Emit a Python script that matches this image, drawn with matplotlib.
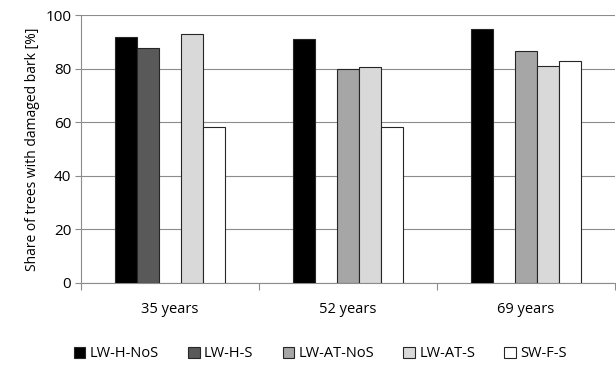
import matplotlib.pyplot as plt
import numpy as np

plt.rcParams['font.family'] = ['Open Sans', 'DejaVu Sans']

categories = ['35 years', '52 years', '69 years']
series = ['LW-H-NoS', 'LW-H-S', 'LW-AT-NoS', 'LW-AT-S', 'SW-F-S']
values = [
    [92, 91, 95],        # LW-H-NoS
    [88, None, None],    # LW-H-S
    [None, 80, 86.6],    # LW-AT-NoS
    [93.2, 80.6, 81.1],  # LW-AT-S
    [58.3, 58.3, 83.1],  # SW-F-S
]
colors = ['#000000', '#595959', '#a6a6a6', '#d9d9d9', '#ffffff']

fig = plt.figure(figsize=(6.16, 3.67), dpi=100)
ax = fig.add_axes([0.1315, 0.229, 0.867, 0.729])

x = np.arange(len(categories))
width = 0.124
for i, name in enumerate(series):
    xs = [x[j] + (i - 2) * width for j in range(len(categories)) if values[i][j] is not None]
    hs = [v for v in values[i] if v is not None]
    ax.bar(xs, hs, width, color=colors[i], edgecolor='#262626', linewidth=0.8,
           label=name, zorder=3)

ax.set_xlim(-0.5, 2.5)
ax.set_ylim(0, 100)
ax.set_yticks(range(0, 101, 20))
ax.yaxis.grid(True, color='#8c8c8c', linewidth=0.8, zorder=0)
ax.set_xticks([-0.5, 0.5, 1.5, 2.5])
ax.set_xticklabels([])
ax.set_xticks(x, minor=True)
ax.set_xticklabels(categories, minor=True, fontsize=10.5)
ax.tick_params(axis='x', which='minor', length=0, pad=14)
ax.tick_params(axis='x', which='major', length=5, color='#8c8c8c', direction='out')
ax.tick_params(axis='y', length=4, color='#8c8c8c', labelsize=11, pad=3)

for s in ['top', 'right']:
    ax.spines[s].set_visible(False)
ax.spines['left'].set_color('#8c8c8c')
ax.spines['bottom'].set_color('#8c8c8c')

ax.set_ylabel('Share of trees with damaged bark [%]', fontsize=10, labelpad=4)

ax.legend(loc='center', bbox_to_anchor=(0.52, 0.036), bbox_transform=fig.transFigure,
          ncol=5, frameon=False, fontsize=10.5, handlelength=0.8, handleheight=0.8,
          handletextpad=0.3, columnspacing=2.0, borderpad=0)

fig.savefig('out.png', dpi=100)
